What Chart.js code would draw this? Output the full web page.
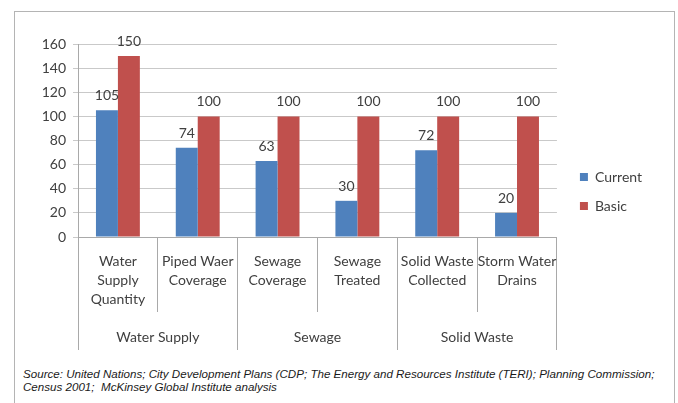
<!DOCTYPE html>
<html lang="en">
<head>
    <meta charset="UTF-8">
    <title>Current vs Basic service levels</title>
    <script src="https://cdn.jsdelivr.net/npm/chart.js"></script>
    <style>
        html, body {
            margin: 0;
            padding: 0;
            background: #fff;
        }
        #wrap {
            position: relative;
            width: 678px;
            height: 403px;
            overflow: hidden;
        }
        #frame {
            position: absolute;
            left: 14px;
            top: 11px;
            width: 659px;
            height: 420px;
            border: 1px solid #b4b4b4;
        }
        #chart-box {
            position: absolute;
            left: 0;
            top: 0;
            width: 678px;
            height: 352px;
        }
        #source {
            position: absolute;
            left: 23px;
            top: 367px;
            font-family: "Liberation Sans", Arial, sans-serif;
            font-style: italic;
            font-size: 11.6px;
            line-height: 13px;
            color: #1a1a1a;
            white-space: nowrap;
        }
    </style>
</head>
<body>
<div id="wrap">
    <div id="frame"></div>
    <div id="chart-box">
        <canvas id="barChart" width="678" height="352"></canvas>
    </div>
    <div id="source">Source: United Nations; City Development Plans (CDP; The Energy and Resources Institute (TERI); Planning Commission;<br>Census 2001;&nbsp; McKinsey Global Institute analysis</div>
</div>

<script>
    // categories (two-level axis)
    const categories = [
        ["Water", "Supply", "Quantity"],
        ["Piped Waer", "Coverage"],
        ["Sewage", "Coverage"],
        ["Sewage", "Treated"],
        ["Solid Waste", "Collected"],
        ["Storm Water", "Drains"]
    ];
    const groups = ["Water Supply", "Sewage", "Solid Waste"];

    // series
    const currentValues = [105, 74, 63, 30, 72, 20];
    const basicValues = [150, 100, 100, 100, 100, 100];

    const yTicks = [0, 20, 40, 60, 80, 100, 120, 140, 160];

    const FONT = "Lato, 'Open Sans', sans-serif";
    const TEXT = "#404040";
    const GRID = "#c9c9c9";
    const AXIS = "#a9a9a9";

    // value labels above each bar
    const valueLabels = {
        id: "valueLabels",
        afterDatasetsDraw(chart) {
            const ctx = chart.ctx;
            ctx.save();
            ctx.font = "14px " + FONT;
            ctx.fillStyle = TEXT;
            ctx.textAlign = "center";
            ctx.textBaseline = "alphabetic";
            chart.data.datasets.forEach((ds, i) => {
                chart.getDatasetMeta(i).data.forEach((bar, j) => {
                    ctx.fillText(String(ds.data[j]), bar.x, bar.y - 10);
                });
            });
            ctx.restore();
        }
    };

    new Chart(document.getElementById("barChart").getContext("2d"), {
        type: "bar",
        data: {
            labels: categories,
            datasets: [
                {
                    label: "Current",
                    data: currentValues,
                    backgroundColor: "#4f81bd",
                    categoryPercentage: 0.55,
                    barPercentage: 1.0
                },
                {
                    label: "Basic",
                    data: basicValues,
                    backgroundColor: "#c0504d",
                    categoryPercentage: 0.55,
                    barPercentage: 1.0
                }
            ]
        },
        options: {
            responsive: false,
            animation: false,
            layout: {
                padding: { left: 20, right: 26, top: 33, bottom: 2 }
            },
            plugins: {
                tooltip: { enabled: false },
                legend: {
                    position: "right",
                    labels: {
                        boxWidth: 8,
                        boxHeight: 8,
                        padding: 15,
                        color: TEXT,
                        font: { family: FONT, size: 14 }
                    }
                }
            },
            scales: {
                y: {
                    min: 0,
                    max: 160,
                    afterBuildTicks(scale) {
                        scale.ticks = yTicks.map(v => ({ value: v }));
                    },
                    afterFit(scale) { scale.width = 58; },
                    border: { display: true, color: AXIS },
                    grid: { color: GRID, tickLength: 5 },
                    ticks: {
                        padding: 7,
                        color: TEXT,
                        font: { family: FONT, size: 14 }
                    }
                },
                // keeps a small gap between the plot and the legend
                gap: {
                    type: "linear",
                    position: "right",
                    afterFit(scale) { scale.width = 8; },
                    border: { display: false },
                    grid: { display: false },
                    ticks: { display: false }
                },
                // space above the plot, below the legend's top edge
                headroom: {
                    type: "category",
                    position: "top",
                    afterFit(scale) { scale.height = 11; },
                    border: { display: false },
                    grid: { display: false },
                    ticks: { display: false }
                },
                x: {
                    position: "bottom",
                    weight: 0,
                    afterFit(scale) { scale.height = 75; },
                    border: { display: true, color: AXIS },
                    grid: {
                        offset: true,
                        drawOnChartArea: false,
                        tickLength: 75,
                        color: AXIS
                    },
                    ticks: {
                        padding: -60,
                        maxRotation: 0,
                        autoSkip: false,
                        color: TEXT,
                        font: { family: FONT, size: 14, lineHeight: 1.36 }
                    }
                },
                x2: {
                    type: "category",
                    labels: groups,
                    position: "bottom",
                    weight: 1,
                    offset: true,
                    afterFit(scale) { scale.height = 38; },
                    border: { display: false },
                    grid: {
                        offset: true,
                        drawOnChartArea: false,
                        tickLength: 38,
                        color: AXIS
                    },
                    ticks: {
                        padding: -22,
                        maxRotation: 0,
                        autoSkip: false,
                        color: TEXT,
                        font: { family: FONT, size: 14, lineHeight: 1.36 }
                    }
                }
            }
        },
        plugins: [valueLabels]
    });
</script>
</body>
</html>
